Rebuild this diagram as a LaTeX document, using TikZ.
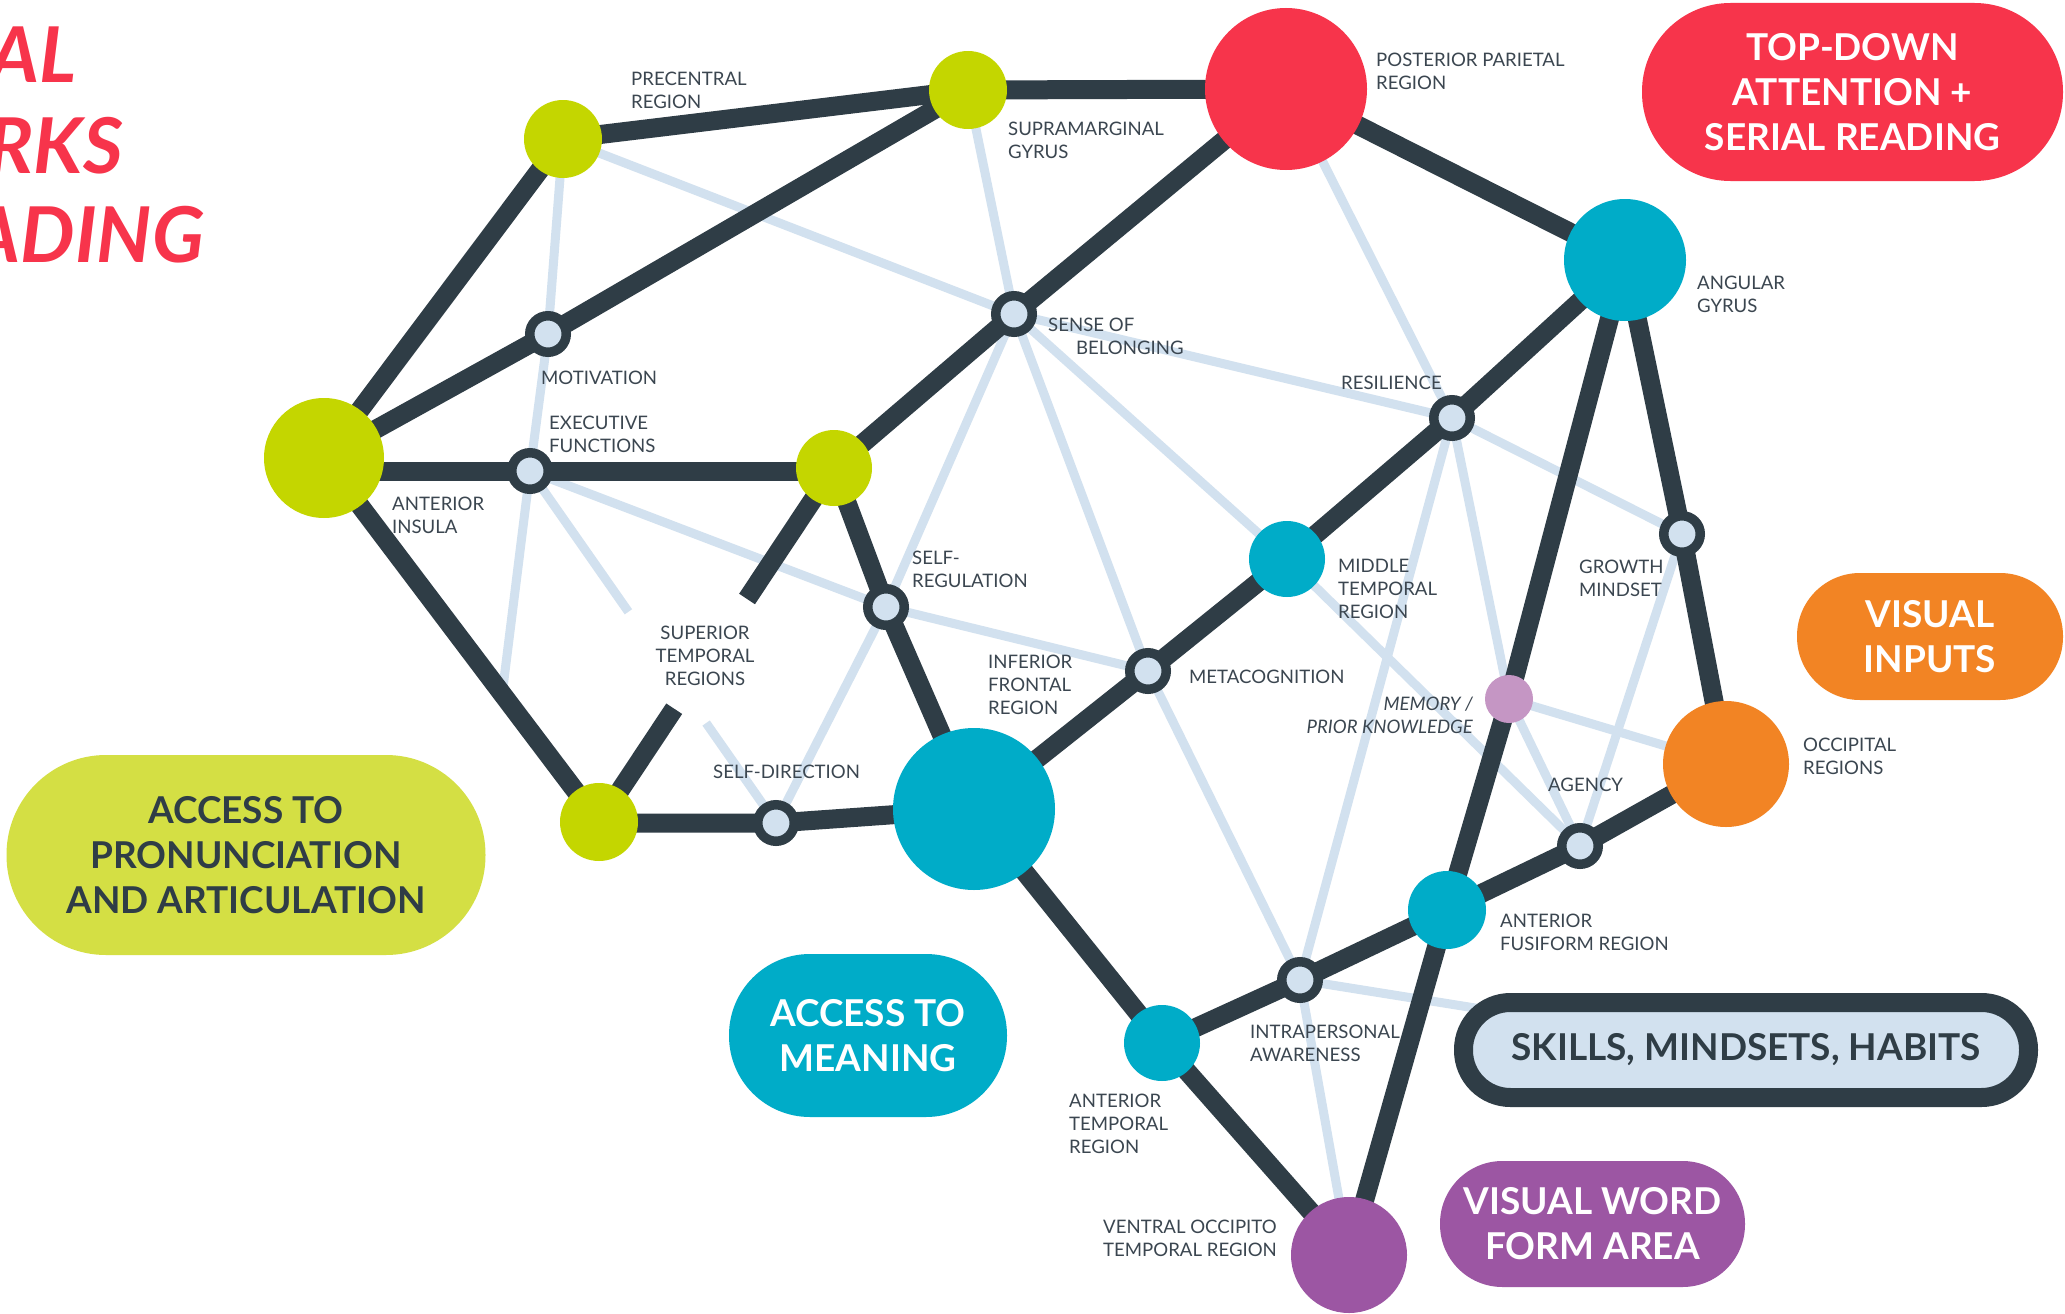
\documentclass[tikz,border=0pt]{standalone}
\usepackage{fontspec}
\setmainfont{Lato}
\usetikzlibrary{calc}
\definecolor{darkc}{HTML}{2F3D46}
\definecolor{lightc}{HTML}{D2E1EF}
\definecolor{limec}{HTML}{C4D600}
\definecolor{limebox}{HTML}{D4DF44}
\definecolor{redc}{HTML}{F7344B}
\definecolor{cyanc}{HTML}{00ACC8}
\definecolor{orangec}{HTML}{F28424}
\definecolor{purplec}{HTML}{9C56A3}
\definecolor{pinkc}{HTML}{C596C4}
\definecolor{labelc}{HTML}{3B4650}
\newcommand\lbfont{\fontsize{18.6}{23}\selectfont}
\newcommand\bxfont{\fontsize{37}{45}\selectfont\bfseries}
\pgfdeclarelayer{back}
\pgfdeclarelayer{mid}
\pgfsetlayers{back,mid,main}
\begin{document}
\begin{tikzpicture}[x=1pt,y=-1pt,
  region/.style={circle, inner sep=0pt, minimum size=#1},
  ring/.style={circle, inner sep=0pt, minimum size=36.5pt, fill=lightc, draw=darkc, line width=9.5pt},
  darkline/.style={draw=darkc, line width=19pt, line join=round},
  lightline/.style={draw=lightc, line width=9pt, line join=round},
  lbl/.style={font=\lbfont, text=labelc, align=left, inner sep=0pt, anchor=north west},
  bigbox/.style={rectangle, inner sep=0pt, font=\bxfont, align=center},
  ttl/.style={font=\fontsize{77}{90}\selectfont\bfseries\itshape, text=redc, inner sep=0pt, anchor=base east}
]
\useasboundingbox (0,0) rectangle (2065,1314);
\begin{pgfonlayer}{back}
\fill[white] (0,0) rectangle (2065,1314);
\end{pgfonlayer}

% big regions
\node[region=120pt, fill=limec] (insula) at (324,458) {};
\node[region=78pt, fill=limec] (pre) at (563,139) {};
\node[region=78pt, fill=limec] (supra) at (968,90) {};
\node[region=162pt, fill=redc] (pp) at (1286,89) {};
\node[region=122pt, fill=cyanc] (angular) at (1625,260) {};
\node[region=76pt, fill=limec] (gmid) at (834,468) {};
\node[region=78pt, fill=limec] (gbot) at (599,822) {};
\node[region=162pt, fill=cyanc] (ifr) at (974,809) {};
\node[region=76pt, fill=cyanc] (mt) at (1287,559) {};
\node[region=76pt, fill=cyanc] (at) at (1162,1043) {};
\node[region=78pt, fill=cyanc] (af) at (1447,910) {};
\node[region=126pt, fill=orangec] (occ) at (1726,764) {};
\node[region=116pt, fill=purplec] (vot) at (1349,1255) {};
\node[region=48pt, fill=pinkc] (mem) at (1509,699) {};

% small ring nodes
\node[ring] (mot) at (548,334) {};
\node[ring] (exec) at (530,471) {};
\node[ring] (sob) at (1014,314) {};
\node[ring] (res) at (1452,418) {};
\node[ring] (grow) at (1682,534) {};
\node[ring] (selfreg) at (886,607) {};
\node[ring] (meta) at (1148,671) {};
\node[ring] (selfdir) at (776,823) {};
\node[ring] (agency) at (1580,846) {};
\node[ring] (intra) at (1300,980) {};

% helper coordinates
\coordinate (lend) at ($(insula)!0.648!(gbot)$);
\coordinate (g1) at ($(gmid)!0.37!(gbot)$);
\coordinate (g2) at ($(gmid)!0.68!(gbot)$);
\coordinate (l1) at ($(exec)!0.40!(selfdir)$);
\coordinate (l2) at ($(exec)!0.716!(selfdir)$);
\coordinate (skillsend) at (1500,1012);
\coordinate (insh) at (insula.center |- exec.center);
\coordinate (gmh) at (gmid.center |- exec.center);
\coordinate (gbh) at (gbot.center |- selfdir.center);

% light connectors
\begin{pgfonlayer}{back}
\draw[lightline] (pre.center) -- (mot.center) -- (exec.center) -- (lend);
\draw[lightline] (pre.center) -- (sob.center);
\draw[lightline] (supra.center) -- (sob.center);
\draw[lightline] (sob.center) -- (res.center);
\draw[lightline] (pp.center) -- (res.center);
\draw[lightline] (sob.center) -- (selfreg.center) -- (selfdir.center);
\draw[lightline] (sob.center) -- (meta.center) -- (intra.center);
\draw[lightline] (sob.center) -- (mt.center) -- (agency.center);
\draw[lightline] (exec.center) -- (selfreg.center) -- (meta.center);
\draw[lightline] (exec.center) -- (l1);
\draw[lightline] (l2) -- (selfdir.center);
\draw[lightline] (res.center) -- (grow.center);
\draw[lightline] (res.center) -- (mem.center);
\draw[lightline] (res.center) -- (intra.center);
\draw[lightline] (grow.center) -- (agency.center);
\draw[lightline] (mem.center) -- (occ.center);
\draw[lightline] (mem.center) -- (agency.center);
\draw[lightline] (intra.center) -- (vot.center);
\draw[lightline] (intra.center) -- (skillsend);
\end{pgfonlayer}

% dark connectors
\begin{pgfonlayer}{mid}
\draw[darkline] (pre.center) -- (supra.center);
\draw[darkline] (supra.center) -- (pp.center);
\draw[darkline] (pre.center) -- (insula.center);
\draw[darkline] (supra.center) -- (mot.center) -- (insula.center);
\draw[darkline] (insh) -- (exec.center) -- (gmh);
\draw[darkline] (insula.center) -- (gbot.center);
\draw[darkline] (pp.center) -- (sob.center) -- (gmid.center);
\draw[darkline] (pp.center) -- (angular.center);
\draw[darkline] (gmid.center) -- (g1);
\draw[darkline] (g2) -- (gbot.center);
\draw[darkline] (gmid.center) -- (selfreg.center) -- (ifr.center);
\draw[darkline] (gbh) -- (selfdir.center) -- (ifr.center);
\draw[darkline] (ifr.center) -- (meta.center) -- (mt.center) -- (res.center) -- (angular.center);
\draw[darkline] (ifr.center) -- (at.center);
\draw[darkline] (at.center) -- (vot.center);
\draw[darkline] (at.center) -- (intra.center) -- (af.center) -- (agency.center) -- (occ.center);
\draw[darkline] (angular.center) -- (mem.center) -- (af.center) -- (vot.center);
\draw[darkline] (angular.center) -- (grow.center) -- (occ.center);
\end{pgfonlayer}

% boxes
\node[bigbox, fill=redc, text=white, minimum width=421pt, minimum height=178pt, rounded corners=88.5pt] (td) at (1852.5,92) {TOP-DOWN\\ATTENTION +\\SERIAL READING};
\node[bigbox, fill=orangec, text=white, minimum width=266pt, minimum height=127pt, rounded corners=63pt] (vi) at (1930,636.5) {VISUAL\\INPUTS};
\node[bigbox, fill=limebox, text=darkc, minimum width=479pt, minimum height=200pt, rounded corners=99.5pt] (pron) at (246,855) {ACCESS TO\\PRONUNCIATION\\AND ARTICULATION};
\node[bigbox, fill=cyanc, text=white, minimum width=278pt, minimum height=163pt, rounded corners=81pt] (meaning) at (868,1035.5) {ACCESS TO\\MEANING};
\node[bigbox, fill=lightc, draw=darkc, line width=19pt, text=darkc, minimum width=565pt, minimum height=95pt, rounded corners=47pt] (skills) at (1746,1050) {SKILLS, MINDSETS, HABITS};
\node[bigbox, fill=purplec, text=white, minimum width=305pt, minimum height=126pt, rounded corners=62.5pt] (vwfa) at (1592.5,1224) {VISUAL WORD\\FORM AREA};

% labels
\node[lbl] (lpre) at (631,72) {PRECENTRAL\\REGION};
\node[lbl] (lsupra) at (1008,122) {SUPRAMARGINAL\\GYRUS};
\node[lbl] (lpp) at (1376,53) {POSTERIOR PARIETAL\\REGION};
\node[lbl] (lsob) at (1048,318) {SENSE OF\\\hspace*{28pt}BELONGING};
\node[lbl] (lmot) at (541,371) {MOTIVATION};
\node[lbl] (lexec) at (549,416) {EXECUTIVE\\FUNCTIONS};
\node[lbl] (lins) at (392,497) {ANTERIOR\\INSULA};
\node[lbl] (lres) at (1341,376) {RESILIENCE};
\node[lbl] (lang) at (1697,276) {ANGULAR\\GYRUS};
\node[lbl] (lselfreg) at (912,551) {SELF-\\REGULATION};
\node[lbl] (lifr) at (988,655) {INFERIOR\\FRONTAL\\REGION};
\node[lbl] (lmeta) at (1189,670) {METACOGNITION};
\node[lbl] (lselfdir) at (713,765) {SELF-DIRECTION};
\node[lbl] (lmt) at (1338,559) {MIDDLE\\TEMPORAL\\REGION};
\node[lbl] (lgrow) at (1579,560) {GROWTH\\MINDSET};
\node[lbl, anchor=north east, align=right, font=\lbfont\itshape] (lmem) at (1473,697) {MEMORY /\\PRIOR KNOWLEDGE};
\node[lbl] (lagency) at (1548,778) {AGENCY};
\node[lbl] (locc) at (1803,738) {OCCIPITAL\\REGIONS};
\node[lbl, anchor=north, align=center] (lstr) at (705,626) {SUPERIOR\\TEMPORAL\\REGIONS};
\node[lbl] (lat) at (1069,1094) {ANTERIOR\\TEMPORAL\\REGION};
\node[lbl] (lvot) at (1103,1220) {VENTRAL OCCIPITO\\TEMPORAL REGION};
\node[lbl] (lintra) at (1250,1025) {INTRAPERSONAL\\AWARENESS};
\node[lbl] (laf) at (1500,914) {ANTERIOR\\FUSIFORM REGION};

% title fragments (cut at the left edge, as in the reference)
\node[ttl] (t1) at (77,83) {AL};
\node[ttl] (t2) at (123,173) {RKS};
\node[ttl] (t3) at (204.5,262) {ADING};
\end{tikzpicture}
\end{document}
